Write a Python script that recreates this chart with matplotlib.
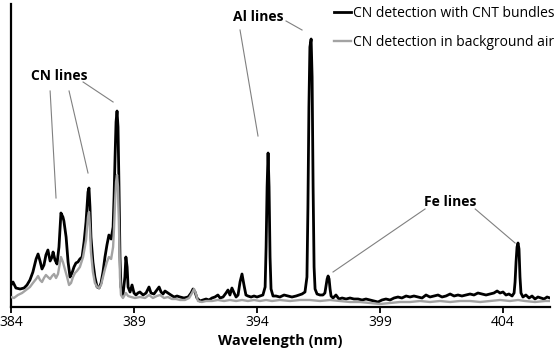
import matplotlib.pyplot as plt

plt.rcParams['font.family'] = ['Open Sans', 'DejaVu Sans']

# spectrum with CNT bundles (wavelength nm, intensity a.u.)
wl_cnt = [384.00, 384.08, 384.20, 384.37, 384.53, 384.65, 384.77, 384.89, 385.02, 385.10,
          385.18, 385.26, 385.34, 385.42, 385.50, 385.59, 385.67, 385.71, 385.79, 385.87,
          385.95, 386.03, 386.11, 386.15, 386.24, 386.32, 386.40, 386.48, 386.56, 386.64,
          386.72, 386.80, 386.89, 386.97, 387.05, 387.13, 387.17, 387.21, 387.25, 387.33,
          387.41, 387.50, 387.58, 387.66, 387.74, 387.82, 387.90, 387.98, 388.07, 388.15,
          388.19, 388.23, 388.27, 388.31, 388.35, 388.39, 388.43, 388.47, 388.55, 388.63,
          388.67, 388.72, 388.76, 388.84, 388.92, 389.00, 389.08, 389.16, 389.24, 389.37,
          389.49, 389.61, 389.69, 389.81, 389.93, 390.02, 390.10, 390.18, 390.26, 390.38,
          390.50, 390.63, 390.75, 390.87, 391.03, 391.20, 391.32, 391.40, 391.48, 391.56,
          391.68, 391.80, 391.93, 392.05, 392.17, 392.29, 392.41, 392.50, 392.62, 392.74,
          392.82, 392.90, 392.98, 393.07, 393.15, 393.23, 393.31, 393.39, 393.47, 393.55,
          393.63, 393.76, 393.88, 394.00, 394.12, 394.24, 394.33, 394.37, 394.41, 394.45,
          394.49, 394.53, 394.57, 394.65, 394.77, 394.93, 395.10, 395.26, 395.42, 395.59,
          395.71, 395.83, 395.95, 396.03, 396.07, 396.11, 396.15, 396.20, 396.24, 396.28,
          396.32, 396.36, 396.44, 396.56, 396.68, 396.76, 396.80, 396.85, 396.89, 396.93,
          396.97, 397.01, 397.09, 397.21, 397.33, 397.46, 397.62, 397.78, 397.94, 398.11,
          398.27, 398.43, 398.59, 398.76, 398.92, 399.08, 399.24, 399.41, 399.57, 399.73,
          399.89, 400.06, 400.22, 400.38, 400.54, 400.71, 400.87, 401.03, 401.20, 401.36,
          401.52, 401.68, 401.85, 402.01, 402.17, 402.33, 402.50, 402.66, 402.82, 402.98,
          403.15, 403.31, 403.47, 403.63, 403.76, 403.88, 404.00, 404.12, 404.24, 404.37,
          404.45, 404.49, 404.53, 404.57, 404.61, 404.65, 404.69, 404.73, 404.81, 404.93,
          405.06, 405.18, 405.30, 405.42, 405.54, 405.67, 405.79, 405.91]
int_cnt = [22, 25, 19, 18, 19, 22, 27, 35, 48, 53,
           46, 38, 42, 52, 57, 46, 50, 55, 47, 43,
           60, 94, 90, 86, 70, 45, 30, 34, 40, 44,
           45, 48, 50, 65, 85, 115, 119, 100, 70, 45,
           30, 20, 19, 24, 35, 50, 62, 72, 68, 80,
           110, 150, 185, 196, 180, 120, 50, 20, 12, 30,
           50, 40, 20, 15, 22, 14, 12, 14, 15, 12,
           14, 20, 14, 13, 17, 20, 15, 13, 16, 14,
           12, 10, 11, 10, 9, 10, 14, 18, 15, 9,
           6, 7, 8, 7, 9, 10, 12, 9, 10, 14,
           17, 12, 19, 14, 10, 12, 25, 33, 22, 12,
           11, 10, 11, 10, 11, 12, 20, 60, 120, 154,
           120, 50, 18, 11, 11, 10, 12, 11, 10, 11,
           12, 13, 15, 30, 100, 200, 260, 268, 230, 120,
           40, 18, 13, 12, 12, 14, 20, 28, 31, 28,
           18, 11, 9, 12, 8, 9, 8, 9, 8, 8,
           7, 8, 7, 6, 5, 7, 8, 7, 9, 10,
           9, 11, 10, 11, 10, 9, 12, 10, 11, 12,
           10, 11, 13, 11, 12, 11, 12, 13, 12, 14,
           13, 12, 13, 14, 16, 14, 15, 12, 13, 11,
           14, 25, 45, 60, 64, 58, 30, 14, 10, 12,
           9, 11, 8, 10, 9, 8, 10, 9]

# spectrum in background air
wl_air = [384.00, 384.12, 384.28, 384.45, 384.61, 384.77, 384.89, 385.02, 385.10, 385.18,
          385.26, 385.34, 385.42, 385.50, 385.59, 385.67, 385.75, 385.83, 385.91, 386.03,
          386.11, 386.20, 386.28, 386.36, 386.44, 386.52, 386.60, 386.68, 386.80, 386.93,
          387.05, 387.13, 387.17, 387.21, 387.25, 387.33, 387.41, 387.50, 387.58, 387.66,
          387.74, 387.82, 387.90, 387.98, 388.07, 388.15, 388.19, 388.23, 388.27, 388.31,
          388.35, 388.39, 388.43, 388.47, 388.55, 388.67, 388.76, 388.88, 389.04, 389.24,
          389.45, 389.61, 389.77, 389.93, 390.06, 390.22, 390.38, 390.54, 390.71, 390.87,
          391.07, 391.24, 391.36, 391.44, 391.52, 391.60, 391.76, 391.93, 392.17, 392.41,
          392.66, 392.90, 393.15, 393.39, 393.63, 393.88, 394.12, 394.37, 394.61, 394.93,
          395.34, 395.75, 396.15, 396.56, 396.97, 397.37, 397.78, 398.19, 398.59, 399.00,
          399.41, 399.81, 400.22, 400.63, 401.03, 401.44, 401.85, 402.25, 402.66, 403.07,
          403.47, 403.88, 404.28, 404.61, 404.89, 405.30, 405.71, 405.91]
int_air = [10, 9, 12, 14, 17, 20, 24, 28, 31, 27,
           25, 29, 32, 30, 28, 31, 33, 29, 33, 50,
           45, 37, 30, 22, 24, 30, 34, 36, 40, 50,
           67, 90, 95, 80, 55, 35, 24, 20, 19, 22,
           30, 38, 45, 50, 48, 60, 80, 105, 125, 132,
           120, 80, 30, 12, 9, 14, 11, 10, 9, 10,
           9, 12, 9, 11, 12, 9, 10, 8, 8, 7,
           7, 9, 14, 18, 13, 6, 5, 6, 6, 7,
           6, 7, 6, 7, 6, 7, 6, 7, 6, 7,
           6, 7, 7, 6, 7, 6, 5, 5, 4, 3,
           4, 5, 5, 6, 5, 6, 5, 6, 6, 5,
           6, 7, 6, 7, 6, 5, 6, 6]

x_ticks = [384, 389, 394, 399, 404]

fig = plt.figure(figsize=(5.6, 3.5), dpi=100)
ax = fig.add_axes([11 / 560, 43 / 350, 539 / 560, 303 / 350])

ax.plot(wl_cnt, int_cnt, color='black', lw=2.0, solid_joinstyle='round',
        label='CN detection with CNT bundles', zorder=2)
ax.plot(wl_air, int_air, color='#a3a3a3', lw=1.7, solid_joinstyle='round',
        label='CN detection in background air', zorder=3)

ax.set_xlim(384, 405.91)
ax.set_ylim(0, 303)
ax.set_xticks(x_ticks)
ax.set_yticks([])
ax.tick_params(axis='x', direction='out', length=4, width=1.3, labelsize=10, pad=2)
for s in ['top', 'right']:
    ax.spines[s].set_visible(False)
for s in ['left', 'bottom']:
    ax.spines[s].set_linewidth(1.6)
ax.set_xlabel('Wavelength (nm)', fontsize=10.5, fontweight='bold', labelpad=3)

# peak labels with leader lines
line_kw = dict(color='#808080', lw=0.8)
ax.text(385.95, 231, 'CN lines', fontsize=10, fontweight='bold', ha='center', va='center')
ax.plot([385.59, 385.83], [216, 109], **line_kw)
ax.plot([386.36, 387.13], [216, 134], **line_kw)
ax.plot([386.93, 388.15], [225, 205], **line_kw)

ax.text(394.04, 290, 'Al lines', fontsize=10, fontweight='bold', ha='center', va='center')
ax.plot([395.18, 395.83], [286, 277], **line_kw)
ax.plot([393.31, 394.04], [277, 171], **line_kw)

ax.text(401.85, 105, 'Fe lines', fontsize=10, fontweight='bold', ha='center', va='center')
ax.plot([400.83, 397.09], [98, 35], **line_kw)
ax.plot([402.87, 404.49], [98, 64], **line_kw)

fig.legend(loc='upper right', bbox_to_anchor=(559 / 560, 0.995), frameon=False,
           fontsize=10, handlelength=1.2, handletextpad=0.2, labelspacing=1.0,
           borderaxespad=0.2, borderpad=0.1)

fig.savefig('out.png', dpi=100)
